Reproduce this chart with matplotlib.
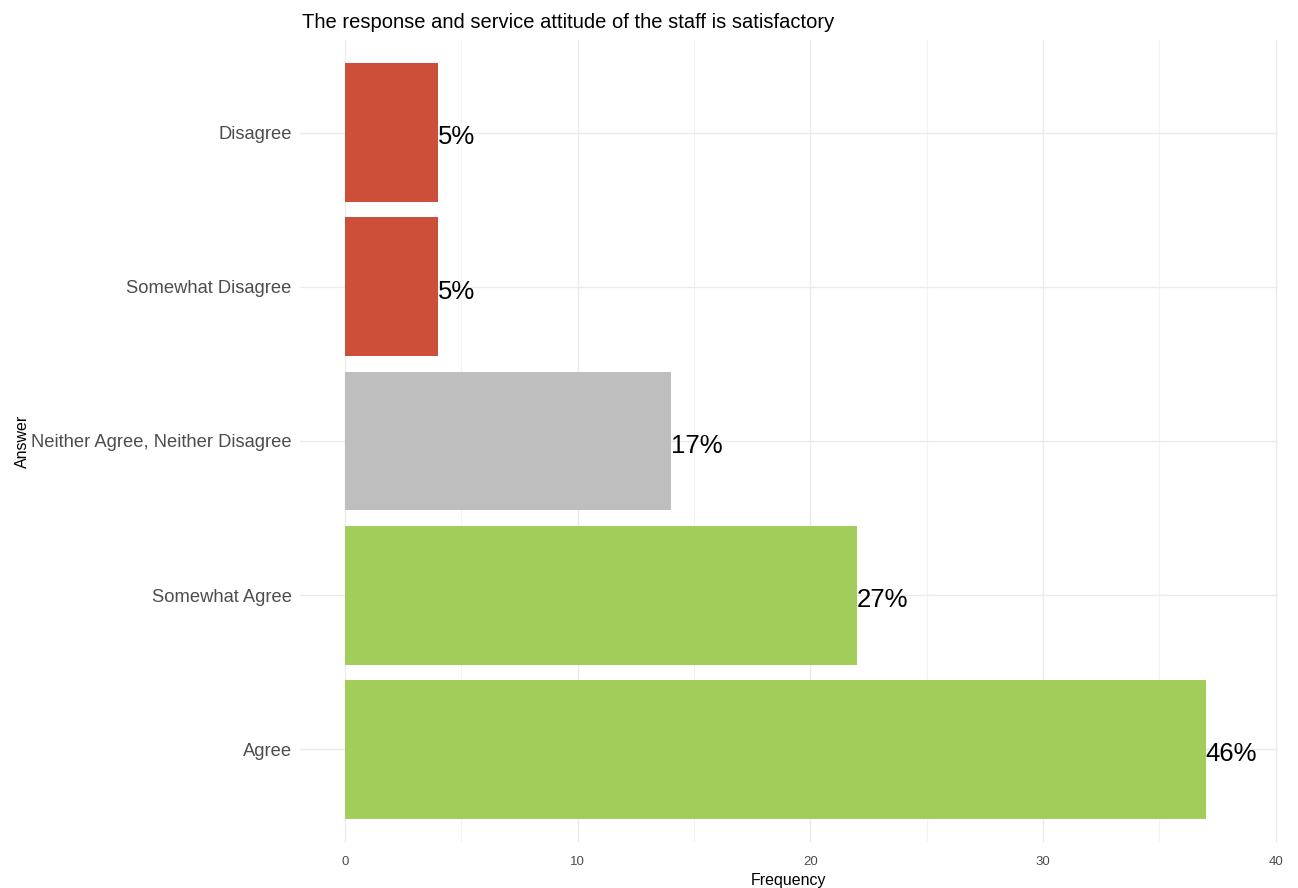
import matplotlib.pyplot as plt

answers = ["Agree", "Somewhat Agree", "Neither Agree, Neither Disagree",
           "Somewhat Disagree", "Disagree"]
freq = [37, 22, 14, 4, 4]
pct_labels = ["46%", "27%", "17%", "5%", "5%"]
colors = ["#A2CD5A", "#A2CD5A", "#BEBEBE", "#CD4F39", "#CD4F39"]

plt.rcParams['font.family'] = ['Liberation Sans', 'DejaVu Sans']

fig = plt.figure(figsize=(12.98, 8.88), dpi=100)
ax = fig.add_axes([300 / 1298, 1 - 842 / 888, 978 / 1298, 802 / 888])

ypos = list(range(len(answers)))
ax.barh(ypos, freq, height=0.9, color=colors, zorder=2)
for y, v, lab in zip(ypos, freq, pct_labels):
    ax.text(v, y - 0.015, lab, ha="left", va="center_baseline", fontsize=18.5, color="black", zorder=3)

ax.set_xlim(-1.93, 40.1)
ax.set_ylim(-0.6, len(answers) - 0.4)
ax.set_yticks(ypos)
ax.set_yticklabels(answers, fontsize=13.2, color="#4D4D4D")
ax.set_xticks([0, 10, 20, 30, 40])
ax.set_xticks([5, 15, 25, 35], minor=True)
ax.tick_params(axis="x", which="major", labelsize=9.5, labelcolor="#4D4D4D", length=0, pad=10)
ax.tick_params(axis="x", which="minor", length=0)
ax.tick_params(axis="y", length=0, pad=6)

ax.grid(True, which="major", color="#EBEBEB", linewidth=1.0, zorder=0)
ax.grid(True, which="minor", axis="x", color="#F2F2F2", linewidth=0.8, zorder=0)
ax.set_axisbelow(True)
for s in ax.spines.values():
    s.set_visible(False)

ax.set_xlabel("Frequency", fontsize=11.5, labelpad=4)
ax.set_ylabel("Answer", fontsize=11.5, labelpad=1)
fig.text(302 / 1298, 1 - 22 / 888, "The response and service attitude of the staff is satisfactory",
         fontsize=14.5, ha="left", va="center")

fig.savefig("out.png", dpi=100)
